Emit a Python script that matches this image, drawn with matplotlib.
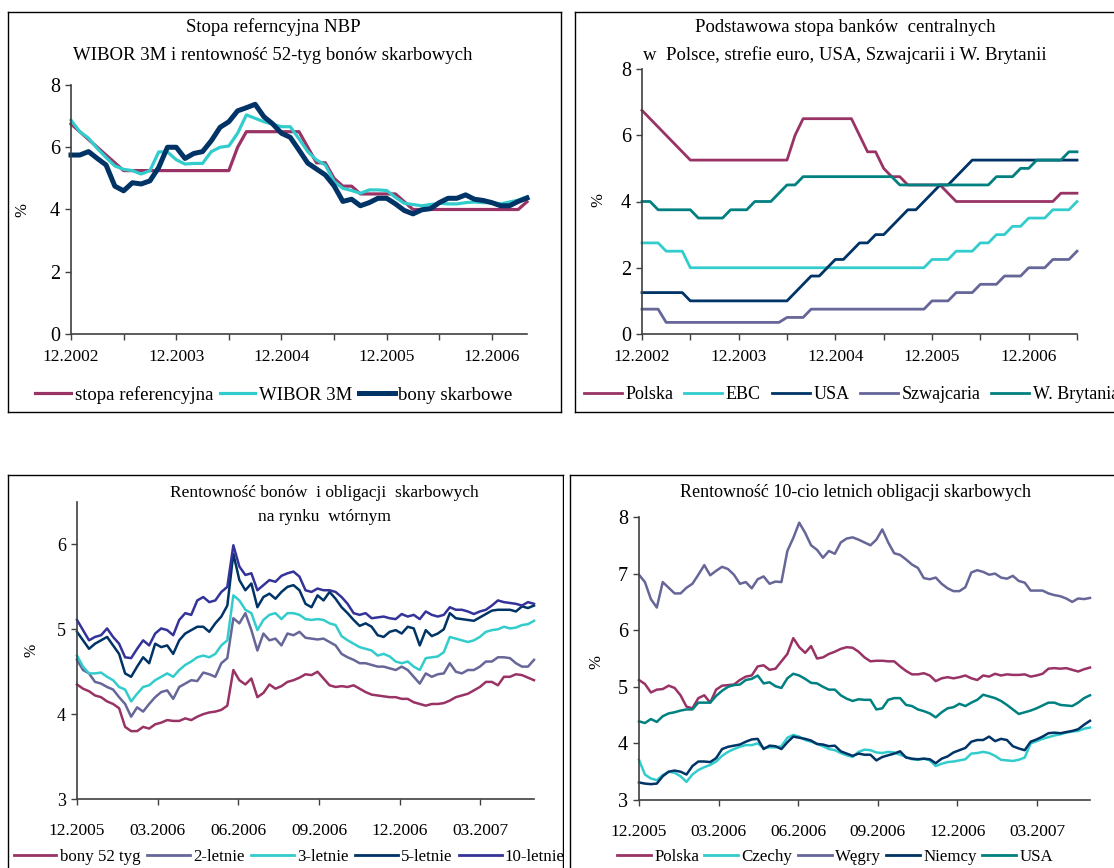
import numpy as np
import matplotlib
matplotlib.use('Agg')
import matplotlib.pyplot as plt
from matplotlib.lines import Line2D
from matplotlib.patches import Rectangle

# ---------------- DATA ----------------
# Panel 1: monthly, 12.2002 .. 04.2007
p1_ticklabels = ['12.2002', '', '12.2003', '', '12.2004', '', '12.2005', '', '12.2006']
stopa_ref = [6.75, 6.5, 6.25, 6.0, 5.75, 5.5,
             5.25, 5.25, 5.25, 5.25, 5.25, 5.25, 5.25, 5.25, 5.25, 5.25, 5.25, 5.25, 5.25,
             6.0, 6.5, 6.5, 6.5, 6.5, 6.5, 6.5, 6.5, 6.0, 5.5, 5.5, 5.0, 4.75, 4.75,
             4.5, 4.5, 4.5, 4.5, 4.5, 4.25,
             4.0, 4.0, 4.0, 4.0, 4.0, 4.0, 4.0, 4.0, 4.0, 4.0, 4.0, 4.0, 4.0, 4.25]
wibor_3m = [6.87, 6.5, 6.29, 5.96, 5.67, 5.4, 5.29, 5.25, 5.14, 5.25,
            5.85, 5.85, 5.6, 5.46, 5.48, 5.48, 5.86, 6.0, 6.04, 6.45,
            7.04, 6.93, 6.82, 6.74, 6.66, 6.66, 6.27, 5.86, 5.59, 5.43,
            4.9, 4.68, 4.61, 4.52, 4.63, 4.63, 4.61, 4.39, 4.2, 4.16,
            4.12, 4.16, 4.2, 4.18, 4.18, 4.22, 4.24, 4.22, 4.22, 4.18,
            4.24, 4.3, 4.41]
bony_skarb = [5.75, 5.75, 5.86, 5.64, 5.43, 4.75, 4.6, 4.86, 4.82, 4.92,
              5.35, 6.0, 6.0, 5.64, 5.8, 5.86, 6.21, 6.64, 6.82, 7.17,
              7.27, 7.38, 6.98, 6.75, 6.45, 6.32, 5.91, 5.49, 5.3, 5.11,
              4.76, 4.26, 4.33, 4.12, 4.22, 4.36, 4.36, 4.18, 3.97, 3.86,
              3.99, 4.03, 4.22, 4.36, 4.36, 4.47, 4.33, 4.29, 4.22, 4.12,
              4.12, 4.26, 4.37]

# Panel 2: monthly, 12.2002 .. 06.2007
p2_ticklabels = ['12.2002', '', '12.2003', '', '12.2004', '', '12.2005', '', '12.2006', '']
cb_polska = [6.75, 6.5, 6.25, 6.0, 5.75, 5.5,
             5.25, 5.25, 5.25, 5.25, 5.25, 5.25, 5.25, 5.25, 5.25, 5.25, 5.25, 5.25, 5.25,
             6.0, 6.5, 6.5, 6.5, 6.5, 6.5, 6.5, 6.5, 6.0, 5.5, 5.5, 5.0, 4.75, 4.75,
             4.5, 4.5, 4.5, 4.5, 4.5, 4.25,
             4.0, 4.0, 4.0, 4.0, 4.0, 4.0, 4.0, 4.0, 4.0, 4.0, 4.0, 4.0, 4.0,
             4.25, 4.25, 4.25]
cb_ebc = [2.75, 2.75, 2.75, 2.5, 2.5, 2.5,
          2.0, 2.0, 2.0, 2.0, 2.0, 2.0, 2.0, 2.0, 2.0, 2.0,
          2.0, 2.0, 2.0, 2.0, 2.0, 2.0, 2.0, 2.0, 2.0, 2.0,
          2.0, 2.0, 2.0, 2.0, 2.0, 2.0, 2.0, 2.0, 2.0, 2.0,
          2.25, 2.25, 2.25, 2.5, 2.5, 2.5, 2.75, 2.75, 3.0, 3.0,
          3.25, 3.25, 3.5, 3.5, 3.5, 3.75, 3.75, 3.75, 4.0]
cb_usa = [1.25, 1.25, 1.25, 1.25, 1.25, 1.25,
          1.0, 1.0, 1.0, 1.0, 1.0, 1.0, 1.0, 1.0, 1.0, 1.0, 1.0, 1.0, 1.0,
          1.25, 1.5, 1.75, 1.75, 2.0, 2.25, 2.25, 2.5, 2.75, 2.75, 3.0,
          3.0, 3.25, 3.5, 3.75, 3.75, 4.0, 4.25, 4.5, 4.5, 4.75, 5.0, 5.25,
          5.25, 5.25, 5.25, 5.25, 5.25, 5.25, 5.25, 5.25, 5.25, 5.25, 5.25, 5.25, 5.25]
cb_szwajcaria = [0.75, 0.75, 0.75,
                 0.35, 0.35, 0.35, 0.35, 0.35, 0.35, 0.35, 0.35, 0.35, 0.35, 0.35, 0.35, 0.35, 0.35, 0.35,
                 0.5, 0.5, 0.5,
                 0.75, 0.75, 0.75, 0.75, 0.75, 0.75, 0.75, 0.75, 0.75, 0.75, 0.75, 0.75, 0.75, 0.75, 0.75,
                 1.0, 1.0, 1.0, 1.25, 1.25, 1.25, 1.5, 1.5, 1.5, 1.75, 1.75, 1.75,
                 2.0, 2.0, 2.0, 2.25, 2.25, 2.25, 2.5]
cb_wbrytania = [4.0, 4.0, 3.75, 3.75, 3.75, 3.75, 3.75, 3.5, 3.5, 3.5, 3.5,
                3.75, 3.75, 3.75, 4.0, 4.0, 4.0, 4.25, 4.5, 4.5,
                4.75, 4.75, 4.75, 4.75, 4.75, 4.75, 4.75, 4.75, 4.75, 4.75, 4.75, 4.75,
                4.5, 4.5, 4.5, 4.5, 4.5, 4.5, 4.5, 4.5, 4.5, 4.5, 4.5, 4.5,
                4.75, 4.75, 4.75, 5.0, 5.0, 5.25, 5.25, 5.25, 5.25, 5.5, 5.5]

# Panels 3 and 4: roughly weekly readings, 12.2005 .. 04.2007
p34_ticklabels = ['12.2005', '03.2006', '06.2006', '09.2006', '12.2006', '03.2007']
bony_52 = [4.35, 4.3, 4.27, 4.22, 4.2, 4.15, 4.12, 4.07, 3.85, 3.8,
           3.8, 3.85, 3.83, 3.88, 3.9, 3.93, 3.92, 3.92, 3.95, 3.93,
           3.97, 4.0, 4.02, 4.03, 4.05, 4.1, 4.52, 4.4, 4.35, 4.42,
           4.2, 4.25, 4.35, 4.3, 4.33, 4.38, 4.4, 4.43, 4.47, 4.46,
           4.5, 4.42, 4.34, 4.32, 4.33, 4.32, 4.34, 4.3, 4.26, 4.23,
           4.22, 4.21, 4.2, 4.2, 4.18, 4.18, 4.14, 4.12, 4.1, 4.12,
           4.12, 4.13, 4.16, 4.2, 4.22, 4.24, 4.28, 4.32, 4.38, 4.38,
           4.34, 4.44, 4.44, 4.47, 4.46, 4.43, 4.4]
obl_2 = [4.64, 4.52, 4.48, 4.38, 4.36, 4.32, 4.29, 4.2, 4.12, 3.97,
         4.08, 4.03, 4.12, 4.2, 4.26, 4.28, 4.18, 4.32, 4.36, 4.4,
         4.39, 4.49, 4.47, 4.44, 4.6, 4.66, 5.13, 5.07, 5.19, 4.99,
         4.75, 4.95, 4.87, 4.89, 4.81, 4.95, 4.93, 4.97, 4.9, 4.89,
         4.88, 4.89, 4.85, 4.81, 4.71, 4.67, 4.64, 4.6, 4.6, 4.58,
         4.56, 4.56, 4.54, 4.52, 4.56, 4.52, 4.44, 4.36, 4.48, 4.44,
         4.47, 4.48, 4.6, 4.5, 4.48, 4.52, 4.52, 4.56, 4.62, 4.62,
         4.67, 4.67, 4.66, 4.6, 4.56, 4.56, 4.64]
obl_3 = [4.69, 4.56, 4.48, 4.48, 4.49, 4.44, 4.4, 4.32, 4.29, 4.15,
         4.24, 4.32, 4.34, 4.4, 4.44, 4.48, 4.44, 4.52, 4.58, 4.62,
         4.67, 4.69, 4.67, 4.71, 4.81, 4.87, 5.4, 5.34, 5.23, 5.19,
         4.99, 5.11, 5.17, 5.19, 5.12, 5.19, 5.19, 5.17, 5.12, 5.11,
         5.12, 5.11, 5.07, 5.05, 4.92, 4.87, 4.83, 4.79, 4.77, 4.75,
         4.69, 4.71, 4.68, 4.62, 4.6, 4.62, 4.56, 4.52, 4.66, 4.67,
         4.68, 4.73, 4.91, 4.89, 4.87, 4.85, 4.87, 4.91, 4.97, 4.99,
         5.0, 5.03, 5.01, 5.02, 5.05, 5.06, 5.1]
obl_5 = [4.97, 4.87, 4.77, 4.83, 4.87, 4.91, 4.81, 4.71, 4.48, 4.44,
         4.56, 4.67, 4.6, 4.83, 4.79, 4.81, 4.71, 4.87, 4.95, 4.99,
         5.03, 5.03, 4.97, 5.07, 5.15, 5.28, 5.89, 5.58, 5.46, 5.54,
         5.26, 5.38, 5.42, 5.36, 5.44, 5.5, 5.52, 5.46, 5.3, 5.26,
         5.4, 5.34, 5.44, 5.36, 5.26, 5.19, 5.11, 5.04, 5.07, 5.03,
         4.93, 4.91, 4.97, 4.99, 4.95, 5.03, 5.01, 4.81, 4.99, 4.92,
         4.95, 5.0, 5.19, 5.13, 5.12, 5.11, 5.1, 5.14, 5.18, 5.22,
         5.23, 5.23, 5.23, 5.21, 5.27, 5.25, 5.28]
obl_10 = [5.11, 4.99, 4.87, 4.91, 4.93, 5.01, 4.91, 4.83, 4.67, 4.66,
          4.77, 4.87, 4.81, 4.95, 5.01, 4.99, 4.93, 5.11, 5.19, 5.17,
          5.34, 5.38, 5.32, 5.34, 5.44, 5.5, 5.99, 5.74, 5.64, 5.66,
          5.46, 5.52, 5.58, 5.56, 5.63, 5.66, 5.68, 5.62, 5.46, 5.44,
          5.48, 5.46, 5.46, 5.44, 5.38, 5.3, 5.19, 5.17, 5.19, 5.13,
          5.14, 5.15, 5.13, 5.12, 5.18, 5.15, 5.17, 5.12, 5.21, 5.17,
          5.15, 5.17, 5.26, 5.23, 5.23, 5.21, 5.18, 5.21, 5.23, 5.28,
          5.34, 5.32, 5.31, 5.3, 5.28, 5.32, 5.3]

y10_polska = [5.12, 5.05, 4.9, 4.95, 4.96, 5.02, 4.98, 4.85, 4.65, 4.62,
              4.8, 4.85, 4.72, 4.95, 5.02, 5.03, 5.04, 5.12, 5.18, 5.2,
              5.36, 5.38, 5.3, 5.32, 5.45, 5.58, 5.86, 5.7, 5.6, 5.72,
              5.5, 5.52, 5.58, 5.62, 5.67, 5.7, 5.69, 5.62, 5.52, 5.45,
              5.46, 5.46, 5.45, 5.45, 5.36, 5.28, 5.22, 5.22, 5.24, 5.2,
              5.1, 5.15, 5.17, 5.15, 5.17, 5.2, 5.15, 5.12, 5.2, 5.18,
              5.23, 5.2, 5.22, 5.21, 5.21, 5.22, 5.18, 5.2, 5.23, 5.32,
              5.33, 5.32, 5.33, 5.3, 5.27, 5.31, 5.34]
y10_czechy = [3.71, 3.45, 3.38, 3.35, 3.44, 3.5, 3.48, 3.42, 3.32, 3.45,
              3.53, 3.58, 3.62, 3.68, 3.78, 3.85, 3.9, 3.94, 3.97, 3.97,
              4.0, 3.92, 3.93, 3.93, 3.95, 4.1, 4.15, 4.12, 4.06, 4.03,
              3.99, 3.95, 3.9, 3.88, 3.83, 3.79, 3.76, 3.85, 3.89, 3.88,
              3.84, 3.83, 3.85, 3.84, 3.8, 3.76, 3.72, 3.71, 3.73, 3.7,
              3.6, 3.64, 3.67, 3.68, 3.7, 3.72, 3.82, 3.83, 3.85, 3.83,
              3.78, 3.71, 3.7, 3.69, 3.71, 3.75, 4.0, 4.04, 4.08, 4.11,
              4.14, 4.16, 4.19, 4.21, 4.22, 4.26, 4.28]
y10_wegry = [6.98, 6.85, 6.55, 6.4, 6.85, 6.75, 6.65, 6.65, 6.75, 6.82,
             6.98, 7.15, 6.97, 7.05, 7.12, 7.08, 6.98, 6.82, 6.85, 6.74,
             6.9, 6.95, 6.82, 6.86, 6.85, 7.4, 7.63, 7.9, 7.72, 7.5,
             7.42, 7.28, 7.4, 7.35, 7.55, 7.62, 7.64, 7.6, 7.55, 7.5,
             7.6, 7.78, 7.55, 7.36, 7.33, 7.25, 7.16, 7.1, 6.92, 6.9,
             6.93, 6.82, 6.74, 6.69, 6.69, 6.76, 7.02, 7.06, 7.03, 6.98,
             7.0, 6.93, 6.91, 6.96, 6.87, 6.84, 6.7, 6.7, 6.7, 6.65,
             6.62, 6.6, 6.56, 6.5, 6.56, 6.55, 6.57]
y10_niemcy = [3.31, 3.29, 3.28, 3.29, 3.42, 3.5, 3.52, 3.5, 3.45, 3.6,
              3.68, 3.68, 3.67, 3.74, 3.9, 3.94, 3.96, 3.98, 4.03, 4.07,
              4.08, 3.9, 3.96, 3.95, 3.9, 4.02, 4.12, 4.1, 4.08, 4.05,
              3.99, 3.98, 3.95, 3.96, 3.86, 3.82, 3.78, 3.82, 3.8, 3.8,
              3.7, 3.76, 3.79, 3.82, 3.86, 3.75, 3.73, 3.72, 3.73, 3.72,
              3.65, 3.73, 3.77, 3.84, 3.88, 3.92, 4.03, 4.06, 4.06, 4.12,
              4.04, 4.08, 4.06, 3.95, 3.91, 3.88, 4.03, 4.07, 4.12, 4.18,
              4.19, 4.18, 4.2, 4.22, 4.25, 4.33, 4.4]
y10_usa = [4.39, 4.36, 4.43, 4.38, 4.48, 4.53, 4.55, 4.58, 4.6, 4.6,
           4.72, 4.72, 4.72, 4.84, 4.93, 5.0, 5.03, 5.04, 5.12, 5.14,
           5.2, 5.06, 5.08, 5.01, 4.98, 5.15, 5.23, 5.2, 5.14, 5.07,
           5.06, 5.0, 4.95, 4.95, 4.85, 4.79, 4.75, 4.78, 4.77, 4.77,
           4.6, 4.62, 4.77, 4.8, 4.8, 4.68, 4.66, 4.6, 4.57, 4.53,
           4.46, 4.55, 4.62, 4.64, 4.7, 4.66, 4.72, 4.77, 4.86, 4.83,
           4.8, 4.75, 4.68, 4.6, 4.52, 4.55, 4.58, 4.62, 4.67, 4.72,
           4.72, 4.68, 4.67, 4.66, 4.72, 4.8, 4.85]

# ---------------- STYLE ----------------
MAG = '#993366'
CYAN = '#33CCCC'
NAVY = '#003366'
GRAYP = '#666699'
TEAL = '#008080'
INDIGO = '#333399'
AXC = '#404040'

W, H = 1114, 868
plt.rcParams['font.family'] = ['Liberation Serif', 'DejaVu Serif']
fig = plt.figure(figsize=(W / 100, H / 100), dpi=100)
fig.patch.set_facecolor('white')


def rect(l, t, r, b):
    return [l / W, 1 - b / H, (r - l) / W, (b - t) / H]


def fx(x):
    return x / W


def fy(y):
    return 1 - y / H


def ftext(x, y, s, fs, rot=0):
    fig.text(fx(x), fy(y), s, ha='center', va='center', fontsize=fs, rotation=rot, zorder=100)


zc = [1]


def box(l, t, r, b):
    a = fig.add_axes(rect(l, t, r, b), zorder=zc[0])
    zc[0] += 1
    a.set_xticks([])
    a.set_yticks([])
    a.set_facecolor('white')
    for s in a.spines.values():
        s.set_color('black')
        s.set_linewidth(1.0)
    return a


def data_ax(l, t, r, b, yfs, xfs, xpad):
    a = fig.add_axes(rect(l, t, r, b), zorder=zc[0])
    zc[0] += 1
    a.patch.set_alpha(0)
    for s in ['top', 'right']:
        a.spines[s].set_visible(False)
    for s in ['left', 'bottom']:
        a.spines[s].set_color(AXC)
        a.spines[s].set_linewidth(1.2)
    a.tick_params(direction='out', length=4, width=1.0, color=AXC)
    a.tick_params(axis='y', labelsize=yfs, pad=4)
    a.tick_params(axis='x', labelsize=xfs, pad=xpad)
    return a


def legend(ax, items, cx, cy, loc, fs, hl=2.0, cs=0.3):
    hs = [Line2D([0], [0], color=c, lw=lw) for (_, c, lw) in items]
    ls = [t for (t, _, _) in items]
    ax.legend(hs, ls, loc=loc, bbox_to_anchor=(fx(cx), fy(cy)), bbox_transform=fig.transFigure,
              ncol=len(items), frameon=False, fontsize=fs, handlelength=hl,
              handletextpad=0.2, columnspacing=cs, borderaxespad=0, borderpad=0)


# ---------- Panel 1 ----------
box(8, 12, 561, 412)
ax1 = data_ax(71, 85, 527, 334, 14.5, 12.5, 7)
m1 = np.arange(len(stopa_ref))
ax1.plot(m1, stopa_ref, color=MAG, lw=2.3, clip_on=False)
ax1.plot(m1, wibor_3m, color=CYAN, lw=2.3, clip_on=False)
ax1.plot(m1, bony_skarb, color=NAVY, lw=3.6, clip_on=False)
ax1.set_xlim(0, len(stopa_ref) - 1)
ax1.set_ylim(0, 8)
ax1.set_yticks([0, 2, 4, 6, 8])
ax1.set_xticks(np.arange(0, 49, 6))
ax1.set_xticklabels(p1_ticklabels)
ftext(273, 27, 'Stopa referncyjna NBP', 13.5)
ftext(273, 55, 'WIBOR 3M i rentowność 52-tyg bonów skarbowych', 13.5)
ftext(22, 210, '%', 12, 90)
legend(ax1, [('stopa referencyjna', MAG, 2.3), ('WIBOR 3M', CYAN, 2.3), ('bony skarbowe', NAVY, 3.6)],
       274, 395, 'center', 13.5, hl=1.9, cs=0.35)

# ---------- Panel 2 ----------
box(575, 12, 1125, 412)
ax2 = data_ax(642, 69, 1077, 334, 14.5, 12.5, 7)
m2 = np.arange(len(cb_polska))
ax2.plot(m2, cb_polska, color=MAG, lw=2.0, clip_on=False)
ax2.plot(m2, cb_ebc, color=CYAN, lw=2.0, clip_on=False)
ax2.plot(m2, cb_usa, color=NAVY, lw=2.0, clip_on=False)
ax2.plot(m2, cb_szwajcaria, color=GRAYP, lw=2.0, clip_on=False)
ax2.plot(m2, cb_wbrytania, color=TEAL, lw=2.0, clip_on=False)
ax2.set_xlim(0, len(cb_polska) - 1)
ax2.set_ylim(0, 8)
ax2.set_yticks([0, 2, 4, 6, 8])
ax2.set_xticks(np.arange(0, 55, 6))
ax2.set_xticklabels(p2_ticklabels)
ftext(845, 27, 'Podstawowa stopa banków  centralnych', 13.5)
ftext(845, 55, 'w  Polsce, strefie euro, USA, Szwajcarii i W. Brytanii', 13.5)
ftext(598, 200, '%', 12, 90)
legend(ax2, [('Polska', MAG, 2.0), ('EBC', CYAN, 2.0), ('USA', NAVY, 2.0),
             ('Szwajcaria', GRAYP, 2.0), ('W. Brytania', TEAL, 2.0)],
       584, 395, 'center left', 13, hl=2.1, cs=0.6)

# ---------- Panel 3 ----------
box(8, 475, 563, 880)
ax3 = data_ax(77, 502, 534, 799, 13, 12.5, 13)
t3 = np.linspace(0, 17, len(bony_52))
ax3.plot(t3, bony_52, color=MAG, lw=1.8, clip_on=False)
ax3.plot(t3, obl_2, color=GRAYP, lw=1.8, clip_on=False)
ax3.plot(t3, obl_3, color=CYAN, lw=1.8, clip_on=False)
ax3.plot(t3, obl_5, color=NAVY, lw=1.8, clip_on=False)
ax3.plot(t3, obl_10, color=INDIGO, lw=1.8, clip_on=False)
ax3.set_xlim(0, 17)
ax3.set_ylim(3, 6.5)
ax3.set_yticks([3, 4, 5, 6])
ax3.set_xticks([0, 3, 6, 9, 12, 15])
ax3.set_xticklabels(p34_ticklabels)
ftext(324, 493, 'Rentowność bonów  i obligacji  skarbowych', 12.5)
ftext(324, 517, 'na rynku  wtórnym', 12.5)
ftext(32, 650, '%', 11.5, 90)
legend(ax3, [('bony 52 tyg', MAG, 2.0), ('2-letnie', GRAYP, 2.0), ('3-letnie', CYAN, 2.0),
             ('5-letnie', NAVY, 2.0), ('10-letnie', INDIGO, 2.0)],
       14, 857, 'center left', 12.2, hl=2.5, cs=0.4)

# white strip hides overflow of panel 3 legend
fig.add_artist(Rectangle((fx(563.5), 0), fx(10), fy(475.5), transform=fig.transFigure,
                         facecolor='white', edgecolor='none', zorder=zc[0]))
zc[0] += 1

# ---------- Panel 4 ----------
box(570, 475, 1125, 880)
ax4 = data_ax(639, 517, 1090, 800, 14.5, 12.5, 13)
t4 = np.linspace(0, 17, len(y10_polska))
ax4.plot(t4, y10_polska, color=MAG, lw=1.8, clip_on=False)
ax4.plot(t4, y10_czechy, color=CYAN, lw=1.8, clip_on=False)
ax4.plot(t4, y10_wegry, color=GRAYP, lw=1.8, clip_on=False)
ax4.plot(t4, y10_niemcy, color=NAVY, lw=1.8, clip_on=False)
ax4.plot(t4, y10_usa, color=TEAL, lw=1.8, clip_on=False)
ax4.set_xlim(0, 17)
ax4.set_ylim(3, 8)
ax4.set_yticks([3, 4, 5, 6, 7, 8])
ax4.set_xticks([0, 3, 6, 9, 12, 15])
ax4.set_xticklabels(p34_ticklabels)
ftext(855, 493, 'Rentowność 10-cio letnich obligacji skarbowych', 13)
ftext(596, 662, '%', 12, 90)
legend(ax4, [('Polska', MAG, 2.0), ('Czechy', CYAN, 2.0), ('Węgry', GRAYP, 2.0),
             ('Niemcy', NAVY, 2.0), ('USA', TEAL, 2.0)],
       835, 857, 'center', 12.2, hl=2.0, cs=0.3)

fig.savefig('out.png', dpi=100, facecolor='white')
